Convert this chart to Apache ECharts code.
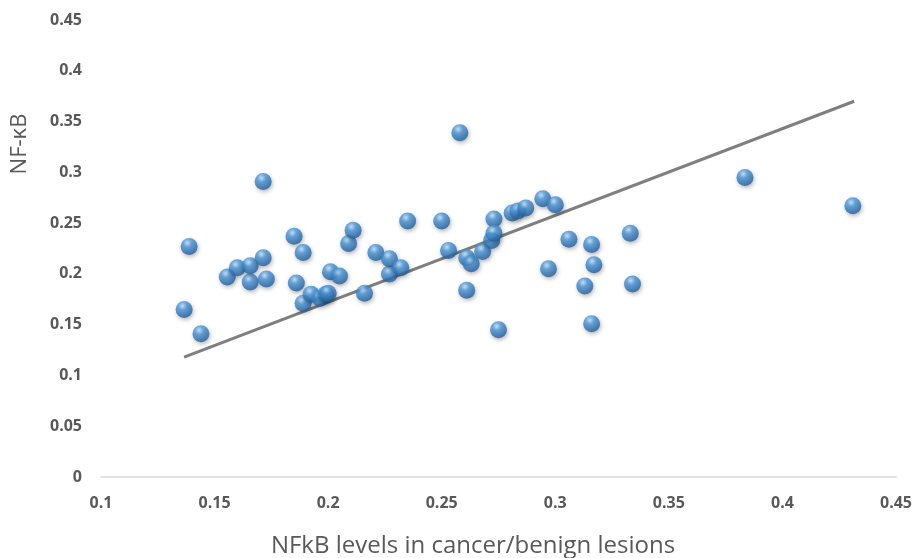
<!DOCTYPE html>
<html><head><meta charset="utf-8">
<script src="https://cdn.jsdelivr.net/npm/echarts@6/dist/echarts.min.js"></script>
<style>html,body{margin:0;padding:0;background:#fff}#c{width:916px;height:558px}</style>
</head><body><div id="c"></div>
<script>
var xValues = [0.1366,0.1388,0.144,0.1556,0.160,0.1657,0.1657,0.1714,0.1714,0.1728,0.185,0.186,0.189,0.189,0.1925,0.1965,0.199,0.200,0.201,0.205,0.209,0.211,0.216,0.221,0.227,0.227,0.232,0.235,0.250,0.253,0.258,0.261,0.261,0.263,0.268,0.272,0.273,0.273,0.275,0.281,0.2835,0.287,0.2945,0.297,0.300,0.306,0.313,0.316,0.316,0.317,0.333,0.334,0.3835,0.431];
var yValues = [0.165,0.227,0.141,0.197,0.206,0.192,0.208,0.216,0.291,0.195,0.237,0.191,0.221,0.171,0.180,0.176,0.180,0.181,0.202,0.198,0.230,0.243,0.181,0.221,0.200,0.215,0.206,0.252,0.252,0.223,0.339,0.184,0.216,0.210,0.222,0.233,0.254,0.240,0.145,0.260,0.262,0.265,0.274,0.205,0.268,0.234,0.188,0.229,0.151,0.209,0.240,0.190,0.295,0.267];
var trendX = [0.1366, 0.4316];
var trendY = [0.118, 0.370];
var xTitle = 'NFkB levels in cancer/benign lesions';
var yTitle = 'NF-κB';

var pts = xValues.map(function(x,i){return [x,yValues[i]];});
var trend = trendX.map(function(x,i){return [x,trendY[i]];});
var chart = echarts.init(document.getElementById('c'));
var ff = '"Open Sans", "Noto Sans", sans-serif';
function fmt(v){return String(+v.toFixed(2));}
chart.setOption({
  animation:false,
  grid:{left:101,right:20,top:20,bottom:81,containLabel:false,outerBoundsMode:'none'},
  xAxis:{type:'value',min:0.1,max:0.45,interval:0.05,
    axisLine:{show:true,onZero:false,lineStyle:{color:'#d9d9d9',width:1.5}},
    axisTick:{show:false},splitLine:{show:false},
    axisLabel:{margin:18,color:'#595959',fontFamily:ff,fontSize:16,fontWeight:'bold',formatter:fmt}},
  yAxis:{type:'value',min:0,max:0.45,interval:0.05,
    axisLine:{show:false},axisTick:{show:false},splitLine:{show:false},
    axisLabel:{margin:19,color:'#595959',fontFamily:ff,fontSize:16,fontWeight:'bold',formatter:fmt}},
  graphic:[
    {type:'text',x:20,y:144,rotation:Math.PI/2,
     style:{text:yTitle,fill:'#595959',font:'22px "Open Sans", "Noto Sans", sans-serif',align:'center',verticalAlign:'middle'}},
    {type:'text',x:473,y:546,
     style:{text:xTitle,fill:'#595959',font:'24px "Open Sans", "Noto Sans", sans-serif',align:'center',verticalAlign:'middle'}}
  ],
  series:[
    {type:'line',data:trend,symbol:'none',lineStyle:{color:'#7f7f7f',width:3},z:1},
    {type:'scatter',data:pts,symbolSize:17,z:2,
     itemStyle:{
       color:new echarts.graphic.RadialGradient(0.4,0.3,0.7,[
         {offset:0,color:'#c4e2f9'},{offset:0.35,color:'#4a97db'},{offset:1,color:'#1f5f9e'}]),
       shadowBlur:4,shadowColor:'rgba(0,0,0,0.35)',shadowOffsetX:1,shadowOffsetY:2}}
  ]
});
</script></body></html>
